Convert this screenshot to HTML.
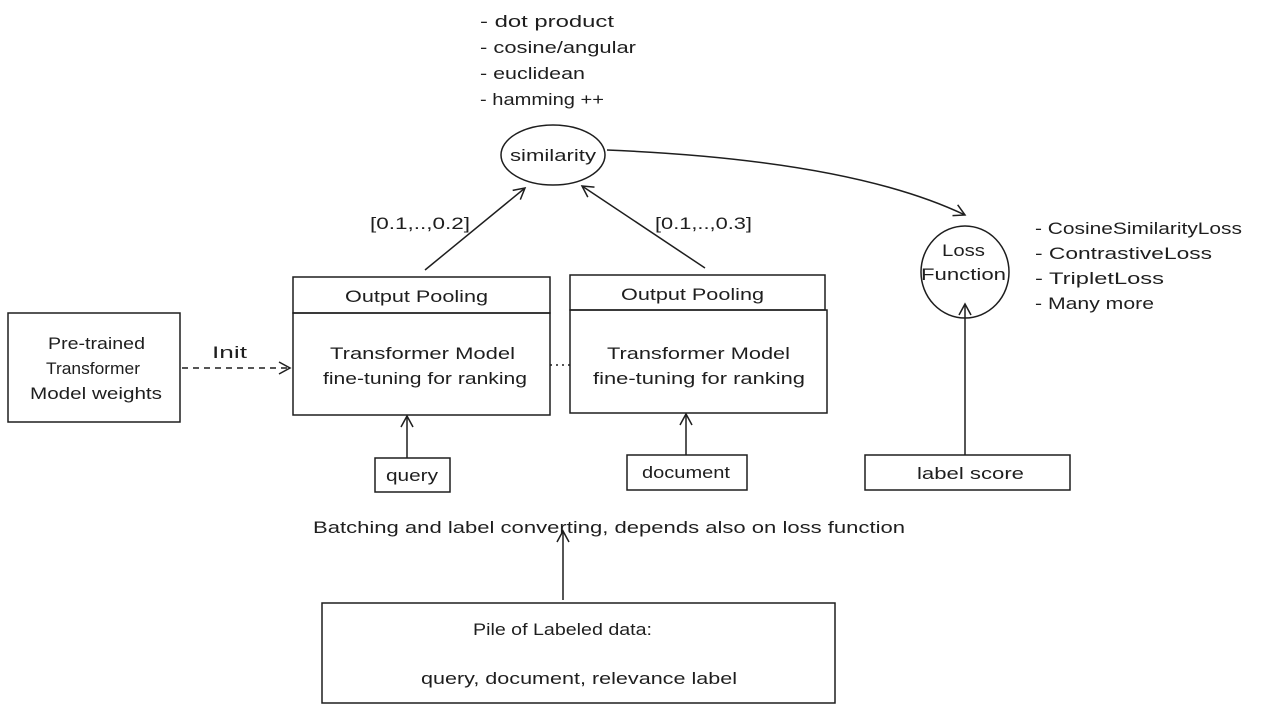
<!DOCTYPE html>
<html><head><meta charset="utf-8"><style>
html,body{margin:0;padding:0;background:#fff;}
svg{display:block;}
text{font-family:"Liberation Sans",sans-serif;fill:#1e1e1e;font-size:17px;}
</style></head><body>
<svg width="1263" height="712" viewBox="0 0 1263 712" xmlns="http://www.w3.org/2000/svg">
<defs>
<marker id="ah" markerWidth="14" markerHeight="14" refX="12" refY="7" orient="auto" markerUnits="userSpaceOnUse">
<path d="M1,1 L12,7 L1,13" fill="none" stroke="#1e1e1e" stroke-width="1.5"/>
</marker>
</defs>
<g lengthAdjust="spacingAndGlyphs">
<text x="480" y="27" textLength="134" lengthAdjust="spacingAndGlyphs">- dot product</text>
<text x="480" y="53" textLength="156" lengthAdjust="spacingAndGlyphs">- cosine/angular</text>
<text x="480" y="79" textLength="105" lengthAdjust="spacingAndGlyphs">- euclidean</text>
<text x="480" y="105" textLength="124" lengthAdjust="spacingAndGlyphs">- hamming ++</text>
</g>

<g stroke="#1e1e1e" stroke-width="1.5" fill="none">
<ellipse cx="553" cy="155" rx="52" ry="30"/>
<line x1="425" y1="270" x2="525" y2="188" marker-end="url(#ah)"/>
<line x1="705" y1="268" x2="582" y2="186" marker-end="url(#ah)"/>
<path d="M607,150 Q850,160 965,215" marker-end="url(#ah)"/>
<ellipse cx="965" cy="272" rx="44" ry="46"/>
<rect x="293" y="277" width="257" height="36"/>
<rect x="570" y="275" width="255" height="35"/>
<rect x="293" y="313" width="257" height="102"/>
<rect x="570" y="310" width="257" height="103"/>
<rect x="8" y="313" width="172" height="109"/>
<line x1="182" y1="368" x2="290" y2="368" stroke-dasharray="6,5" marker-end="url(#ah)"/>
<line x1="550" y1="365" x2="570" y2="365" stroke-dasharray="2,4"/>
<rect x="375" y="458" width="75" height="34"/>
<line x1="407" y1="458" x2="407" y2="416" marker-end="url(#ah)"/>
<rect x="627" y="455" width="120" height="35"/>
<line x1="686" y1="455" x2="686" y2="414" marker-end="url(#ah)"/>
<rect x="865" y="455" width="205" height="35"/>
<line x1="965" y1="455" x2="965" y2="304" marker-end="url(#ah)"/>
<line x1="563" y1="600" x2="563" y2="531" marker-end="url(#ah)"/>
<rect x="322" y="603" width="513" height="100"/>
</g>

<text x="510" y="161" textLength="86" lengthAdjust="spacingAndGlyphs" font-size="16">similarity</text>
<text x="370" y="229" textLength="100" lengthAdjust="spacingAndGlyphs">[0.1,..,0.2]</text>
<text x="655" y="229" textLength="97" lengthAdjust="spacingAndGlyphs">[0.1,..,0.3]</text>
<text x="942" y="256" textLength="43" lengthAdjust="spacingAndGlyphs">Loss</text>
<text x="921" y="280" textLength="85" lengthAdjust="spacingAndGlyphs">Function</text>
<text x="1035" y="234" textLength="207" lengthAdjust="spacingAndGlyphs">- CosineSimilarityLoss</text>
<text x="1035" y="259" textLength="177" lengthAdjust="spacingAndGlyphs">- ContrastiveLoss</text>
<text x="1035" y="284" textLength="129" lengthAdjust="spacingAndGlyphs">- TripletLoss</text>
<text x="1035" y="309" textLength="119" lengthAdjust="spacingAndGlyphs">- Many more</text>
<text x="345" y="302" textLength="143" lengthAdjust="spacingAndGlyphs">Output Pooling</text>
<text x="621" y="300" textLength="143" lengthAdjust="spacingAndGlyphs">Output Pooling</text>
<text x="330" y="359" textLength="185" lengthAdjust="spacingAndGlyphs">Transformer Model</text>
<text x="323" y="384" textLength="204" lengthAdjust="spacingAndGlyphs">fine-tuning for ranking</text>
<text x="607" y="359" textLength="183" lengthAdjust="spacingAndGlyphs">Transformer Model</text>
<text x="593" y="384" textLength="212" lengthAdjust="spacingAndGlyphs">fine-tuning for ranking</text>
<text x="48" y="349" textLength="97" lengthAdjust="spacingAndGlyphs">Pre-trained</text>
<text x="46" y="374" textLength="94" lengthAdjust="spacingAndGlyphs">Transformer</text>
<text x="30" y="399" textLength="132" lengthAdjust="spacingAndGlyphs">Model weights</text>
<text x="212" y="358" textLength="35" lengthAdjust="spacingAndGlyphs">Init</text>
<text x="386" y="481" textLength="52" lengthAdjust="spacingAndGlyphs">query</text>
<text x="642" y="478" textLength="88" lengthAdjust="spacingAndGlyphs">document</text>
<text x="917" y="479" textLength="107" lengthAdjust="spacingAndGlyphs">label score</text>
<text x="313" y="533" textLength="592" lengthAdjust="spacingAndGlyphs">Batching and label converting, depends also on loss function</text>
<text x="473" y="635" textLength="179" lengthAdjust="spacingAndGlyphs">Pile of Labeled data:</text>
<text x="421" y="684" textLength="316" lengthAdjust="spacingAndGlyphs">query, document, relevance label</text>
</svg>
</body></html>
